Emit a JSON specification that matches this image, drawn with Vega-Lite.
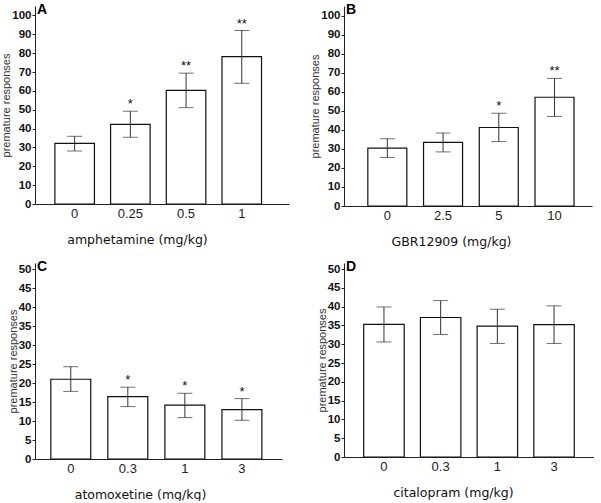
{
  "$schema": "https://vega.github.io/schema/vega-lite/v6.json",
  "background": "white",
  "padding": {"left": 0, "top": 3, "right": 0, "bottom": 0},
  "datasets": {
    "A": [
      {"dose": "0", "mean": 32.2, "lo": 28.1, "hi": 35.9, "sig": ""},
      {"dose": "0.25", "mean": 42.2, "lo": 35.4, "hi": 49.2, "sig": "*"},
      {"dose": "0.5", "mean": 60.3, "lo": 51.1, "hi": 69.4, "sig": "**"},
      {"dose": "1", "mean": 78.2, "lo": 64.0, "hi": 92.0, "sig": "**"}
    ],
    "B": [
      {"dose": "0", "mean": 30.4, "lo": 25.5, "hi": 35.3, "sig": ""},
      {"dose": "2.5", "mean": 33.4, "lo": 28.4, "hi": 38.3, "sig": ""},
      {"dose": "5", "mean": 41.2, "lo": 33.8, "hi": 48.7, "sig": "*"},
      {"dose": "10", "mean": 57.1, "lo": 47.0, "hi": 67.0, "sig": "**"}
    ],
    "C": [
      {"dose": "0", "mean": 21.0, "lo": 17.8, "hi": 24.3, "sig": ""},
      {"dose": "0.3", "mean": 16.4, "lo": 13.8, "hi": 18.9, "sig": "*"},
      {"dose": "1", "mean": 14.2, "lo": 10.9, "hi": 17.3, "sig": "*"},
      {"dose": "3", "mean": 13.0, "lo": 10.2, "hi": 15.9, "sig": "*"}
    ],
    "D": [
      {"dose": "0", "mean": 35.3, "lo": 30.6, "hi": 39.9, "sig": ""},
      {"dose": "0.3", "mean": 37.1, "lo": 32.6, "hi": 41.6, "sig": ""},
      {"dose": "1", "mean": 34.8, "lo": 30.2, "hi": 39.3, "sig": ""},
      {"dose": "3", "mean": 35.2, "lo": 30.2, "hi": 40.2, "sig": ""}
    ]
  },
  "columns": 2,
  "spacing": {"row": 57, "column": 55},
  "bounds": "flush",
  "concat": [
    {
      "width": 254, "height": 198,
      "title": {"text": "A", "anchor": "start", "frame": "group", "offset": 0, "dx": 2, "dy": 11, "fontSize": 14, "font": "Liberation Sans", "fontWeight": "bold", "color": "black"},
      "data": {"name": "A"},
      "encoding": {"x": {"field": "dose", "type": "nominal", "sort": null, "scale": {"paddingInner": 0.29, "paddingOuter": 0.425, "align": 0.42}, "axis": {"title": "amphetamine (mg/kg)", "titleX": 102, "titleY": 35, "titleBaseline": "middle"}}},
      "layer": [
        {"mark": {"type": "bar", "fill": "white", "stroke": "#111", "strokeWidth": 1.2}, "encoding": {"y": {"field": "mean", "type": "quantitative", "title": "premature responses", "scale": {"domain": [0, 105], "nice": false}, "axis": {"values": [0, 10, 20, 30, 40, 50, 60, 70, 80, 90, 100], "labelOverlap": false}}}},
        {"mark": {"type": "rule", "color": "#333", "strokeWidth": 1}, "encoding": {"y": {"field": "lo", "type": "quantitative", "title": "premature responses", "axis": {"values": [0, 10, 20, 30, 40, 50, 60, 70, 80, 90, 100], "labelOverlap": false}}, "y2": {"field": "hi"}}},
        {"mark": {"type": "tick", "color": "#333", "size": 15, "thickness": 1}, "encoding": {"y": {"field": "lo", "type": "quantitative", "title": "premature responses", "axis": {"values": [0, 10, 20, 30, 40, 50, 60, 70, 80, 90, 100], "labelOverlap": false}}}},
        {"mark": {"type": "tick", "color": "#333", "size": 15, "thickness": 1}, "encoding": {"y": {"field": "hi", "type": "quantitative", "title": "premature responses", "axis": {"values": [0, 10, 20, 30, 40, 50, 60, 70, 80, 90, 100], "labelOverlap": false}}}},
        {"mark": {"type": "text", "baseline": "alphabetic", "dy": -3, "fontSize": 13, "font": "Liberation Sans", "color": "#111"}, "encoding": {"y": {"field": "hi", "type": "quantitative", "title": "premature responses", "axis": {"values": [0, 10, 20, 30, 40, 50, 60, 70, 80, 90, 100], "labelOverlap": false}}, "text": {"field": "sig"}}}
      ]
    },
    {
      "width": 248, "height": 200,
      "title": {"text": "B", "anchor": "start", "frame": "group", "offset": 0, "dx": 2, "dy": 11, "fontSize": 14, "font": "Liberation Sans", "fontWeight": "bold", "color": "black"},
      "data": {"name": "B"},
      "encoding": {"x": {"field": "dose", "type": "nominal", "sort": null, "scale": {"paddingInner": 0.3, "paddingOuter": 0.375, "align": 0.57}, "axis": {"title": "GBR12909 (mg/kg)", "titleX": 107, "titleY": 35, "titleBaseline": "middle"}}},
      "layer": [
        {"mark": {"type": "bar", "fill": "white", "stroke": "#111", "strokeWidth": 1.2}, "encoding": {"y": {"field": "mean", "type": "quantitative", "title": "premature responses", "scale": {"domain": [0, 105], "nice": false}, "axis": {"values": [0, 10, 20, 30, 40, 50, 60, 70, 80, 90, 100], "labelOverlap": false}}}},
        {"mark": {"type": "rule", "color": "#333", "strokeWidth": 1}, "encoding": {"y": {"field": "lo", "type": "quantitative", "title": "premature responses", "axis": {"values": [0, 10, 20, 30, 40, 50, 60, 70, 80, 90, 100], "labelOverlap": false}}, "y2": {"field": "hi"}}},
        {"mark": {"type": "tick", "color": "#333", "size": 15, "thickness": 1}, "encoding": {"y": {"field": "lo", "type": "quantitative", "title": "premature responses", "axis": {"values": [0, 10, 20, 30, 40, 50, 60, 70, 80, 90, 100], "labelOverlap": false}}}},
        {"mark": {"type": "tick", "color": "#333", "size": 15, "thickness": 1}, "encoding": {"y": {"field": "hi", "type": "quantitative", "title": "premature responses", "axis": {"values": [0, 10, 20, 30, 40, 50, 60, 70, 80, 90, 100], "labelOverlap": false}}}},
        {"mark": {"type": "text", "baseline": "alphabetic", "dy": -3, "fontSize": 13, "font": "Liberation Sans", "color": "#111"}, "encoding": {"y": {"field": "hi", "type": "quantitative", "title": "premature responses", "axis": {"values": [0, 10, 20, 30, 40, 50, 60, 70, 80, 90, 100], "labelOverlap": false}}, "text": {"field": "sig"}}}
      ]
    },
    {
      "width": 247, "height": 196,
      "title": {"text": "C", "anchor": "start", "frame": "group", "offset": 0, "dx": 2, "dy": 11, "fontSize": 14, "font": "Liberation Sans", "fontWeight": "bold", "color": "black"},
      "data": {"name": "C"},
      "encoding": {"x": {"field": "dose", "type": "nominal", "sort": null, "scale": {"paddingInner": 0.3, "paddingOuter": 0.315, "align": 0.44}, "axis": {"title": "atomoxetine (mg/kg)", "titleX": 105, "titleY": 35, "titleBaseline": "middle"}}},
      "layer": [
        {"mark": {"type": "bar", "fill": "white", "stroke": "#111", "strokeWidth": 1.2}, "encoding": {"y": {"field": "mean", "type": "quantitative", "title": "premature responses", "scale": {"domain": [0, 51.6], "nice": false}, "axis": {"values": [0, 5, 10, 15, 20, 25, 30, 35, 40, 45, 50], "labelOverlap": false}}}},
        {"mark": {"type": "rule", "color": "#333", "strokeWidth": 1}, "encoding": {"y": {"field": "lo", "type": "quantitative", "title": "premature responses", "axis": {"values": [0, 5, 10, 15, 20, 25, 30, 35, 40, 45, 50], "labelOverlap": false}}, "y2": {"field": "hi"}}},
        {"mark": {"type": "tick", "color": "#333", "size": 15, "thickness": 1}, "encoding": {"y": {"field": "lo", "type": "quantitative", "title": "premature responses", "axis": {"values": [0, 5, 10, 15, 20, 25, 30, 35, 40, 45, 50], "labelOverlap": false}}}},
        {"mark": {"type": "tick", "color": "#333", "size": 15, "thickness": 1}, "encoding": {"y": {"field": "hi", "type": "quantitative", "title": "premature responses", "axis": {"values": [0, 5, 10, 15, 20, 25, 30, 35, 40, 45, 50], "labelOverlap": false}}}},
        {"mark": {"type": "text", "baseline": "alphabetic", "dy": -3, "fontSize": 13, "font": "Liberation Sans", "color": "#111"}, "encoding": {"y": {"field": "hi", "type": "quantitative", "title": "premature responses", "axis": {"values": [0, 5, 10, 15, 20, 25, 30, 35, 40, 45, 50], "labelOverlap": false}}, "text": {"field": "sig"}}}
      ]
    },
    {
      "width": 250, "height": 194,
      "title": {"text": "D", "anchor": "start", "frame": "group", "offset": 0, "dx": 2, "dy": 11, "fontSize": 14, "font": "Liberation Sans", "fontWeight": "bold", "color": "black"},
      "data": {"name": "D"},
      "encoding": {"x": {"field": "dose", "type": "nominal", "sort": null, "scale": {"paddingInner": 0.286, "paddingOuter": 0.348, "align": 0.5}, "axis": {"title": "citalopram (mg/kg)", "titleX": 109, "titleY": 35, "titleBaseline": "middle"}}},
      "layer": [
        {"mark": {"type": "bar", "fill": "white", "stroke": "#111", "strokeWidth": 1.2}, "encoding": {"y": {"field": "mean", "type": "quantitative", "title": "premature responses", "scale": {"domain": [0, 51.6], "nice": false}, "axis": {"values": [0, 5, 10, 15, 20, 25, 30, 35, 40, 45, 50], "labelOverlap": false}}}},
        {"mark": {"type": "rule", "color": "#333", "strokeWidth": 1}, "encoding": {"y": {"field": "lo", "type": "quantitative", "title": "premature responses", "axis": {"values": [0, 5, 10, 15, 20, 25, 30, 35, 40, 45, 50], "labelOverlap": false}}, "y2": {"field": "hi"}}},
        {"mark": {"type": "tick", "color": "#333", "size": 15, "thickness": 1}, "encoding": {"y": {"field": "lo", "type": "quantitative", "title": "premature responses", "axis": {"values": [0, 5, 10, 15, 20, 25, 30, 35, 40, 45, 50], "labelOverlap": false}}}},
        {"mark": {"type": "tick", "color": "#333", "size": 15, "thickness": 1}, "encoding": {"y": {"field": "hi", "type": "quantitative", "title": "premature responses", "axis": {"values": [0, 5, 10, 15, 20, 25, 30, 35, 40, 45, 50], "labelOverlap": false}}}},
        {"mark": {"type": "text", "baseline": "alphabetic", "dy": -3, "fontSize": 13, "font": "Liberation Sans", "color": "#111"}, "encoding": {"y": {"field": "hi", "type": "quantitative", "title": "premature responses", "axis": {"values": [0, 5, 10, 15, 20, 25, 30, 35, 40, 45, 50], "labelOverlap": false}}, "text": {"field": "sig"}}}
      ]
    }
  ],
  "config": {
    "view": {"stroke": null},
    "axis": {"grid": false, "domainColor": "#222", "domainWidth": 1, "labelFont": "Liberation Sans", "titleFont": "Liberation Sans", "labelColor": "#111", "titleColor": "#333", "titleFontWeight": "normal"},
    "axisY": {"labelFontWeight": "bold", "labelFontSize": 11.5, "tickSize": 3, "tickColor": "#222", "labelPadding": 1, "titleFontSize": 11, "titlePadding": 0, "labelOverlap": false},
    "axisX": {"ticks": false, "labelAngle": 0, "labelFontSize": 13, "labelPadding": 3, "labelColor": "#222", "titleFont": "DejaVu Sans", "titleFontSize": 12.5, "titleColor": "#111"}
  }
}
